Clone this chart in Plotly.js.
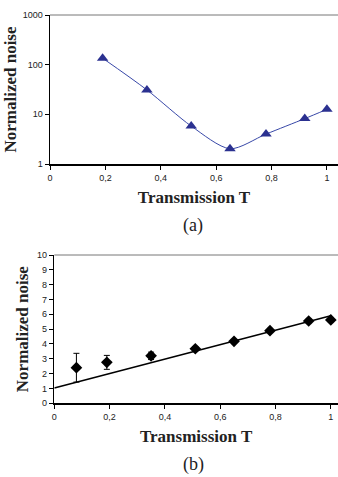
<!DOCTYPE html>
<html>
<head>
<meta charset="utf-8">
<script src="https://cdn.plot.ly/plotly-3.0.1.min.js"></script>
<style>html,body{margin:0;padding:0;background:#fff;}#chart{width:338px;height:477px;}</style>
</head>
<body>
<div id="chart"></div>
<script>
// Panel (a): log-scale noise vs transmission
const transA = [0.19, 0.35, 0.51, 0.65, 0.78, 0.92, 1.0];
const noiseA = [135, 31, 5.8, 2.03, 4.0, 8.2, 12.6];

// Panel (b): linear noise vs transmission with error bars
const transB = [0.08, 0.19, 0.35, 0.51, 0.65, 0.78, 0.92, 1.0];
const noiseB = [2.4, 2.76, 3.2, 3.68, 4.18, 4.9, 5.55, 5.62];
const errB = [0.97, 0.47, 0.25, 0.15, 0.12, 0.12, 0.12, 0.12];

// Theory line for panel (b)
const fitT = [0, 1];
const fitNoise = [1.03, 5.9];

// Tick labels
const xTickVals = [0, 0.2, 0.4, 0.6, 0.8, 1];
const xTickText = ["0", "0,2", "0,4", "0,6", "0,8", "1"];
const yTickValsA = [1, 10, 100, 1000];
const yTickTextA = ["1", "10", "100", "1000"];
const yTickValsB = [0, 1, 2, 3, 4, 5, 6, 7, 8, 9, 10];

const xTitle = "Transmission T";
const yTitle = "Normalized noise";

const W = 338, H = 477;
const serif = "'Liberation Serif', 'Times New Roman', serif";
const tickFont = {family: "'Liberation Sans', Arial, sans-serif", size: 9, color: "#222"};
const titleFont = {family: serif, size: 17, color: "#222", weight: 700};

const traces = [
  {x: transA, y: noiseA, xaxis: "x", yaxis: "y", type: "scatter", mode: "lines+markers",
   line: {shape: "spline", smoothing: 0.8, color: "#3848a8", width: 1},
   marker: {symbol: "triangle-up", size: 10, color: "#2b3190"}},
  {x: fitT, y: fitNoise, xaxis: "x2", yaxis: "y2", type: "scatter", mode: "lines",
   line: {color: "#000", width: 1.5}},
  {x: transB, y: noiseB, xaxis: "x2", yaxis: "y2", type: "scatter", mode: "markers",
   marker: {symbol: "diamond", size: 9, color: "#000"},
   error_y: {type: "data", array: errB, visible: true, color: "#000", thickness: 1, width: 3}}
];

const commonX = {
  showgrid: false, zeroline: false, showline: true, linecolor: "#000", linewidth: 2,
  ticks: "outside", ticklen: 4, tickwidth: 1, tickcolor: "#000",
  tickmode: "array", tickvals: xTickVals, ticktext: xTickText, tickfont: tickFont,
  title: {text: xTitle, font: titleFont, standoff: 9}
};
const commonY = {
  showgrid: false, zeroline: false, showline: true, linecolor: "#000", linewidth: 1.5,
  ticks: "outside", ticklen: 4, tickwidth: 1, tickcolor: "#000", tickfont: tickFont
};

const layout = {
  width: W, height: H,
  margin: {l: 0, r: 0, t: 0, b: 0},
  paper_bgcolor: "#fff", plot_bgcolor: "#fff",
  showlegend: false,
  xaxis: Object.assign({}, commonX, {domain: [50/W, 1], range: [0, 1.04], anchor: "y"}),
  yaxis: Object.assign({}, commonY, {domain: [1-164/H, 1-15/H], type: "log", range: [0, 3],
    tickmode: "array", tickvals: yTickValsA, ticktext: yTickTextA, anchor: "x",
    title: {text: yTitle, font: titleFont, standoff: 1}}),
  xaxis2: Object.assign({}, commonX, {domain: [54.3/W, 1], range: [0, 1.026], anchor: "y2"}),
  yaxis2: Object.assign({}, commonY, {domain: [1-403.3/H, 1-255/H], range: [0, 10],
    tickmode: "array", tickvals: yTickValsB, anchor: "x2",
    title: {text: yTitle, font: titleFont, standoff: 4}}),
  shapes: [
    {type: "line", xref: "paper", yref: "paper", x0: 50/W, x1: 1, y0: 1-15/H, y1: 1-15/H,
     line: {color: "#777", width: 1}},
    {type: "line", xref: "paper", yref: "paper", x0: 54.3/W, x1: 1, y0: 1-255/H, y1: 1-255/H,
     line: {color: "#777", width: 1}}
  ],
  annotations: [
    {text: "(a)", xref: "paper", yref: "paper", x: 193/W, y: 1-225/H, xanchor: "center", yanchor: "middle",
     showarrow: false, font: {family: serif, size: 18, color: "#222"}},
    {text: "(b)", xref: "paper", yref: "paper", x: 193/W, y: 1-464/H, xanchor: "center", yanchor: "middle",
     showarrow: false, font: {family: serif, size: 18, color: "#222"}}
  ]
};

Plotly.newPlot("chart", traces, layout, {displayModeBar: false, staticPlot: true});
</script>
</body>
</html>
